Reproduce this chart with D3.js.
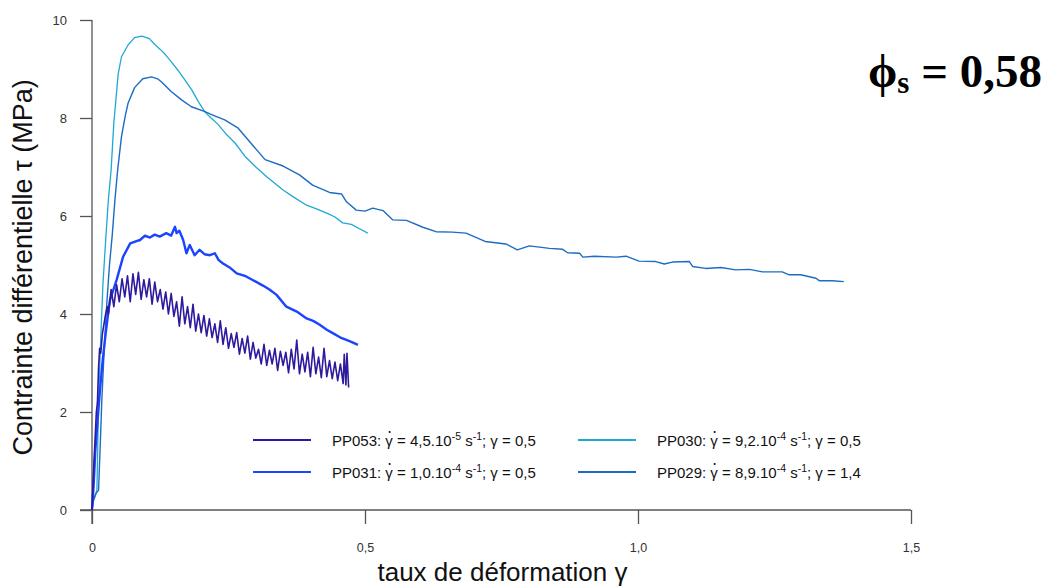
<!DOCTYPE html>
<html>
<head>
<meta charset="utf-8">
<script src="https://cdn.jsdelivr.net/npm/d3@7"></script>
<style>
body { margin: 0; background: #fff; }
</style>
</head>
<body>
<div id="chart"></div>
<script>
// axes
var xTicks = [0, 0.5, 1.0, 1.5];
var yTicks = [0, 2, 4, 6, 8, 10];

// PP053 (noisy, dark indigo)
var pp053Gamma = [0, 0.002, 0.005, 0.008, 0.010, 0.012, 0.014, 0.016, 0.019, 0.022, 0.025, 0.028, 0.030, 0.033,
  0.035, 0.040, 0.045, 0.050, 0.055, 0.060, 0.065, 0.070, 0.075, 0.080, 0.085, 0.090, 0.095, 0.100,
  0.105, 0.110, 0.115, 0.120, 0.125, 0.130, 0.135, 0.140, 0.145, 0.150, 0.155, 0.160, 0.165, 0.170,
  0.175, 0.180, 0.185, 0.190, 0.195, 0.200, 0.205, 0.210, 0.215, 0.220, 0.225, 0.230, 0.235, 0.240,
  0.245, 0.250, 0.255, 0.260, 0.265, 0.270, 0.275, 0.280, 0.285, 0.290, 0.295, 0.300, 0.305, 0.310,
  0.315, 0.320, 0.325, 0.330, 0.335, 0.340, 0.345, 0.350, 0.355, 0.360, 0.365, 0.370, 0.375, 0.380,
  0.385, 0.390, 0.395, 0.400, 0.405, 0.410, 0.415, 0.420, 0.425, 0.430, 0.435, 0.440, 0.445, 0.450,
  0.455, 0.460, 0.462, 0.465, 0.467, 0.470];
var pp053Tau = [0, 0.6, 1.3, 2.0, 2.2, 2.9, 3.3, 3.2, 3.6, 3.8, 4.0, 4.15, 4.0, 4.3,
  4.5, 4.15, 4.6, 4.25, 4.72, 4.35, 4.78, 4.25, 4.82, 4.4, 4.85, 4.3, 4.7, 4.35,
  4.72, 4.2, 4.65, 4.25, 4.5, 4.1, 4.45, 4.0, 4.42, 3.95, 4.25, 3.75, 4.35, 3.8,
  4.15, 3.72, 4.2, 3.65, 4.0, 3.62, 3.97, 3.55, 3.9, 3.52, 3.8, 3.42, 3.86, 3.38,
  3.72, 3.3, 3.6, 3.32, 3.62, 3.18, 3.5, 3.2, 3.55, 3.08, 3.42, 3.1, 3.28, 2.98,
  3.38, 2.95, 3.26, 2.98, 3.3, 2.85, 3.24, 2.95, 3.22, 2.8, 3.28, 2.88, 3.47, 2.78,
  3.18, 2.82, 3.22, 2.72, 3.32, 2.78, 3.12, 2.7, 3.3, 2.72, 3.05, 2.68, 3.02, 2.64,
  2.98, 2.58, 3.18, 2.55, 3.2, 2.5];

// PP031 (bright blue)
var pp031Gamma = [0, 0.003, 0.006, 0.010, 0.015, 0.020, 0.025, 0.030, 0.033, 0.045, 0.057, 0.070, 0.080, 0.088,
  0.097, 0.106, 0.115, 0.124, 0.136, 0.145, 0.152, 0.155, 0.160, 0.167, 0.173, 0.179, 0.188, 0.197,
  0.206, 0.216, 0.225, 0.232, 0.240, 0.252, 0.265, 0.280, 0.295, 0.313, 0.325, 0.338, 0.356, 0.375,
  0.393, 0.405, 0.417, 0.430, 0.441, 0.455, 0.466, 0.477, 0.487];
var pp031Tau = [0, 0.5, 1.2, 1.8, 2.5, 3.1, 3.6, 4.05, 4.29, 4.69, 5.17, 5.44, 5.48, 5.51,
  5.6, 5.56, 5.62, 5.58, 5.65, 5.6, 5.78, 5.65, 5.7, 5.51, 5.24, 5.41, 5.2, 5.31,
  5.22, 5.2, 5.24, 5.1, 5.03, 4.95, 4.83, 4.78, 4.69, 4.58, 4.5, 4.39, 4.15, 4.05,
  3.91, 3.86, 3.78, 3.68, 3.61, 3.52, 3.47, 3.42, 3.37];

// PP030 (cyan)
var pp030Gamma = [0, 0.002, 0.009, 0.012, 0.016, 0.020, 0.025, 0.030, 0.035, 0.040, 0.048, 0.054, 0.066, 0.078,
  0.091, 0.100, 0.105, 0.115, 0.125, 0.134, 0.145, 0.157, 0.170, 0.183, 0.195, 0.207, 0.218, 0.230,
  0.245, 0.262, 0.280, 0.300, 0.320, 0.350, 0.370, 0.393, 0.410, 0.430, 0.445, 0.459, 0.475, 0.490, 0.505];
var pp030Tau = [0, 0.2, 0.4, 2.2, 3.5, 4.6, 5.5, 6.33, 6.94, 7.9, 8.9, 9.25, 9.49, 9.64,
  9.67, 9.64, 9.62, 9.5, 9.4, 9.3, 9.15, 8.98, 8.78, 8.57, 8.33, 8.12, 8.0, 7.88,
  7.68, 7.49, 7.22, 7.0, 6.8, 6.53, 6.38, 6.22, 6.15, 6.06, 5.98, 5.86, 5.83, 5.74, 5.65];

// PP029 (mid blue)
var pp029Gamma = [0, 0.003, 0.008, 0.012, 0.015, 0.018, 0.022, 0.027, 0.032, 0.037, 0.042, 0.047, 0.054, 0.061,
  0.066, 0.078, 0.093, 0.109, 0.120, 0.127, 0.145, 0.164, 0.182, 0.207, 0.219, 0.243, 0.267, 0.290,
  0.317, 0.350, 0.380, 0.404, 0.435, 0.457, 0.466, 0.484, 0.500, 0.514, 0.533, 0.551, 0.576, 0.606,
  0.630, 0.660, 0.685, 0.720, 0.758, 0.779, 0.801, 0.838, 0.862, 0.871, 0.893, 0.899, 0.920, 0.960,
  0.978, 1.002, 1.033, 1.048, 1.063, 1.094, 1.100, 1.124, 1.152, 1.179, 1.204, 1.228, 1.264, 1.277,
  1.298, 1.326, 1.332, 1.356, 1.377];
var pp029Tau = [0, 0.2, 0.35, 0.4, 1.3, 2.24, 3.2, 4.2, 5.0, 5.6, 6.33, 6.94, 7.62, 8.05,
  8.3, 8.62, 8.8, 8.84, 8.8, 8.74, 8.54, 8.37, 8.23, 8.13, 8.07, 7.96, 7.8, 7.5,
  7.15, 7.02, 6.84, 6.63, 6.48, 6.45, 6.29, 6.12, 6.1, 6.16, 6.11, 5.92, 5.91, 5.77,
  5.68, 5.67, 5.65, 5.48, 5.43, 5.31, 5.39, 5.34, 5.32, 5.25, 5.24, 5.16, 5.18, 5.16,
  5.18, 5.08, 5.07, 5.02, 5.06, 5.07, 4.97, 4.93, 4.95, 4.9, 4.91, 4.86, 4.86, 4.8,
  4.8, 4.73, 4.68, 4.68, 4.66];

var seriesNames = ["PP053", "PP031", "PP030", "PP029"];
var seriesColors = ["#2d1a9c", "#1a44ff", "#20a8d4", "#1c6cc4"];
var seriesWidths = [1.6, 2.4, 1.3, 1.4];
var legendRate = ["4,5.10", "1,0.10", "9,2.10", "8,9.10"];
var legendExp = ["-5", "-4", "-4", "-4"];
var legendStrain = ["0,5", "0,5", "0,5", "1,4"];

var width = 1052, height = 588;

var svg = d3.select("#chart").append("svg")
    .attr("width", width)
    .attr("height", height)
    .attr("viewBox", [0, 0, width, height])
    .style("font-family", "'Liberation Sans', Arial, sans-serif");

svg.append("rect").attr("width", width).attr("height", height).attr("fill", "#fff");

var x = d3.scaleLinear([0, 1.5], [92, 911]);
var y = d3.scaleLinear([0, 10], [510, 20]);

var fmtComma = d => d === 0 ? "0" : d3.format(".1f")(d).replace(".", ",");

// x axis
var gx = svg.append("g")
    .attr("transform", "translate(0," + y(0) + ")")
    .call(d3.axisBottom(x).tickValues(xTicks).tickFormat(fmtComma).tickSize(14).tickPadding(19));
gx.select(".domain").remove();
gx.selectAll("line").attr("stroke", "#555").attr("stroke-width", 1.3);
gx.selectAll("text").attr("fill", "#333").style("font-size", "12.5px");

// y axis
var gy = svg.append("g")
    .attr("transform", "translate(" + x(0) + ",0)")
    .call(d3.axisLeft(y).tickValues(yTicks).tickSize(12).tickPadding(13));
gy.select(".domain").remove();
gy.selectAll("line").attr("stroke", "#555").attr("stroke-width", 1.3);
gy.selectAll("text").attr("fill", "#333").style("font-size", "13px");

// axis lines, extended past the origin like the original
svg.append("line")
    .attr("x1", x(0) - 12).attr("x2", x(1.5))
    .attr("y1", y(0)).attr("y2", y(0))
    .attr("stroke", "#555").attr("stroke-width", 1.3);
svg.append("line")
    .attr("x1", x(0)).attr("x2", x(0))
    .attr("y1", y(10)).attr("y2", y(0) + 14)
    .attr("stroke", "#555").attr("stroke-width", 1.3);

// curves
var allGamma = [pp053Gamma, pp031Gamma, pp030Gamma, pp029Gamma];
var allTau = [pp053Tau, pp031Tau, pp030Tau, pp029Tau];
var line = d3.line().x(d => x(d[0])).y(d => y(d[1]));

// draw order: light ones first, noisy on top
[2, 3, 1, 0].forEach(function(k) {
    var pts = allGamma[k].map((g, i) => [g, allTau[k][i]]);
    svg.append("path")
        .datum(pts)
        .attr("d", line)
        .attr("fill", "none")
        .attr("stroke", seriesColors[k])
        .attr("stroke-width", seriesWidths[k])
        .attr("stroke-linejoin", "round");
});

// axis titles
svg.append("text")
    .attr("transform", "translate(32," + y(4.95) + ") rotate(-90)")
    .attr("text-anchor", "middle")
    .style("font-size", "27px")
    .attr("fill", "#111")
    .text("Contrainte différentielle τ (MPa)");

svg.append("text")
    .attr("x", (x(0) + x(1.5)) / 2 + 1)
    .attr("y", 581)
    .attr("text-anchor", "middle")
    .style("font-family", "'Liberation Sans Narrow', 'Liberation Sans', sans-serif")
    .style("font-size", "26px")
    .attr("fill", "#111")
    .text("taux de déformation γ");

// phi_s label
var title = svg.append("text")
    .attr("x", 868)
    .attr("y", 87)
    .style("font-family", "'Liberation Serif', 'Times New Roman', serif")
    .style("font-weight", "bold")
    .style("font-size", "47px")
    .attr("fill", "#000");
title.append("tspan").text("ϕ");
title.append("tspan").attr("dy", 6).style("font-size", "31px").text("s");
title.append("tspan").attr("dy", -6).text(" = 0,58");

// legend
var legendPos = [[253, 440], [253, 472], [578, 440], [578, 472]];
seriesNames.forEach(function(name, k) {
    var p = legendPos[k];
    var g = svg.append("g").attr("transform", "translate(" + p[0] + "," + p[1] + ")");
    g.append("line")
        .attr("x1", 0).attr("x2", 58)
        .attr("stroke", seriesColors[k])
        .attr("stroke-width", 2.2);
    var t = g.append("text")
        .attr("x", 79).attr("y", 5.5)
        .style("font-size", "15px")
        .attr("fill", "#111");
    t.append("tspan").text(name + ": γ = " + legendRate[k]);
    t.append("tspan").attr("dy", -6).style("font-size", "10.5px").text(legendExp[k]);
    t.append("tspan").attr("dy", 6).text(" s");
    t.append("tspan").attr("dy", -6).style("font-size", "10.5px").text("-1");
    t.append("tspan").attr("dy", 6).text("; γ = " + legendStrain[k]);
    // dot over the first gamma (strain rate)
    var node = t.node();
    var gi = (name + ": ").length;
    var x0 = node.getSubStringLength(0, gi);
    var gw = node.getSubStringLength(gi, 1);
    g.append("circle")
        .attr("cx", 79 + x0 + gw / 2 + 0.5)
        .attr("cy", -8)
        .attr("r", 1.1)
        .attr("fill", "#111");
});
</script>
</body>
</html>
